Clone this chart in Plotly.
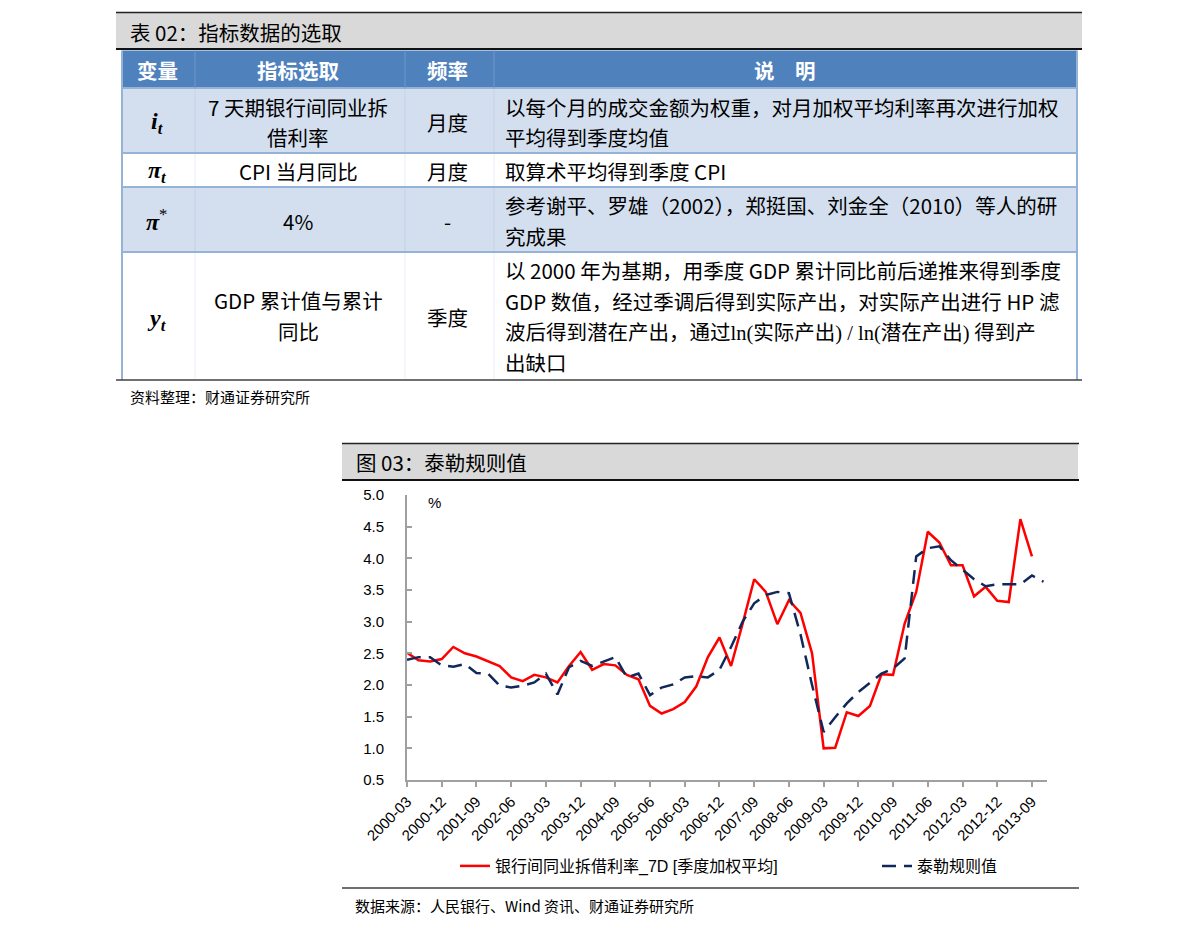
import plotly.graph_objects as go

W, H = 1191, 934
CJK = "Noto Sans CJK SC"
SANS = "Liberation Sans, Arial, Noto Sans CJK SC"
SERIF = "Liberation Serif, DejaVu Serif"

# ---------------- data ----------------
quarters = [f"{y}-{m:02d}" for y in range(2000, 2014) for m in (3, 6, 9, 12)]
tick_labels = quarters[::3]

rate_7d = [2.51, 2.39, 2.37, 2.41, 2.60, 2.50, 2.45, 2.37, 2.30, 2.12,
           2.06, 2.16, 2.12, 2.04, 2.30, 2.52, 2.24, 2.33, 2.31, 2.16,
           2.09, 1.67, 1.55, 1.62, 1.73, 1.98, 2.44, 2.75, 2.30, 2.97,
           3.67, 3.47, 2.96, 3.34, 3.14, 2.50, 1.00, 1.01, 1.57, 1.51,
           1.67, 2.17, 2.16, 2.97, 3.47, 4.42, 4.25, 3.89, 3.89, 3.40,
           3.55, 3.33, 3.31, 4.62, 4.03]

taylor = [2.40, 2.44, 2.44, 2.31, 2.29, 2.33, 2.19, 2.18, 1.99, 1.96,
          1.99, 2.04, 2.18, 1.85, 2.28, 2.38, 2.30, 2.37, 2.44, 2.12,
          2.18, 1.84, 1.96, 2.01, 2.12, 2.14, 2.12, 2.24, 2.60, 3.00,
          3.29, 3.42, 3.47, 3.45, 2.80, 2.00, 1.26, 1.49, 1.71, 1.89,
          2.03, 2.18, 2.26, 2.42, 4.03, 4.16, 4.19, 3.97, 3.82, 3.67,
          3.56, 3.59, 3.59, 3.59, 3.73, 3.63]

series_names = ["银行间同业拆借利率_7D [季度加权平均]", "泰勒规则值"]

table_title = "表 02：指标数据的选取"
table_headers = ["变量", "指标选取", "频率", "说　明"]
table_vars = ["<b><i>i</i></b><sub><b><i>t</i></b></sub>",
              "<b><i>π</i></b><sub><b><i>t</i></b></sub>",
              "<b><i>π</i></b><sup>*</sup>",
              "<b><i>y</i></b><sub><b><i>t</i></b></sub>"]
table_indicator = [["7 天期银行间同业拆", "借利率"], ["CPI 当月同比"], ["4%"],
                   ["GDP 累计值与累计", "同比"]]
table_freq = ["月度", "月度", "-", "季度"]
LN = "<span style=\"font-family:'Liberation Serif'\">"
table_desc = [
    ["以每个月的成交金额为权重，对月加权平均利率再次进行加权", "平均得到季度均值"],
    ["取算术平均得到季度 CPI"],
    ["参考谢平、罗雄（2002），郑挺国、刘金全（2010）等人的研", "究成果"],
    ["以 2000 年为基期，用季度 GDP 累计同比前后递推来得到季度",
     "GDP 数值，经过季调后得到实际产出，对实际产出进行 HP 滤",
     "波后得到潜在产出，通过" + LN + "ln(</span>实际产出" + LN + ") / ln(</span>潜在产出" + LN + ")</span> 得到产",
     "出缺口"],
]
table_source = "资料整理：财通证券研究所"
chart_title = "图 03：泰勒规则值"
chart_source = "数据来源：人民银行、Wind 资讯、财通证券研究所"


def X(px):
    return px / W


def Y(py):
    return 1 - py / H


def rect(x0, y0, x1, y1, fill):
    return dict(type="rect", xref="paper", yref="paper", x0=X(x0), x1=X(x1),
                y0=Y(y1), y1=Y(y0), fillcolor=fill, line=dict(width=0), layer="below")


def hline(x0, x1, y, color, width):
    return dict(type="line", xref="paper", yref="paper", x0=X(x0), x1=X(x1),
                y0=Y(y), y1=Y(y), line=dict(color=color, width=width))


def vline(x, y0, y1, color, width):
    return dict(type="line", xref="paper", yref="paper", x0=X(x), x1=X(x),
                y0=Y(y0), y1=Y(y1), line=dict(color=color, width=width))


def txt(x, y, s, size=20.5, color="#000000", family=CJK, xanchor="left"):
    return dict(x=X(x), y=Y(y), xref="paper", yref="paper", text=s, showarrow=False,
                xanchor=xanchor, yanchor="middle",
                font=dict(size=size, color=color, family=family))


# ---------------- figure ----------------
fig = go.Figure()
fig.add_trace(go.Scatter(x=quarters[:len(rate_7d)], y=rate_7d, mode="lines",
                         name=series_names[0], legend="legend",
                         line=dict(color="#FF0000", width=2.5)))
fig.add_trace(go.Scatter(x=quarters, y=taylor, mode="lines", name=series_names[1],
                         legend="legend2",
                         line=dict(color="#10285A", width=2.5, dash="14px,8px")))

shapes = []
annots = []

# ---- table block ----
row_bounds = [50.5, 88, 153, 187, 252, 379]
row_fills = ["#4F81BD", "#D3DFEE", "#FFFFFF", "#D3DFEE", "#FFFFFF"]
col_bounds = [122, 195, 405, 494, 1077]
shapes.append(rect(116, 12, 1082, 49, "#D9D9D9"))
shapes.append(hline(116, 1082, 12.5, "#222222", 1.5))
shapes.append(hline(116, 1082, 49, "#111111", 2))
for i, f in enumerate(row_fills):
    shapes.append(rect(col_bounds[0], row_bounds[i], col_bounds[-1], row_bounds[i + 1], f))
for yb in row_bounds[1:-1]:
    shapes.append(hline(col_bounds[0], col_bounds[-1], yb, "#95B3D7", 2))
for cb in col_bounds[1:-1]:
    shapes.append(vline(cb, row_bounds[0], row_bounds[1], "#6F98C9", 1))
    shapes.append(vline(cb, row_bounds[1], row_bounds[-1], "rgba(149,179,215,0.22)", 1))
shapes.append(vline(col_bounds[0], row_bounds[0], 380, "#95B3D7", 2))
shapes.append(vline(col_bounds[-1], row_bounds[0], 380, "#95B3D7", 2))
shapes.append(hline(116, 1082, 380, "#404040", 1.5))

annots.append(txt(128, 31.5, table_title, size=20.5))
header_x = [157, 298, 447, 785]
for hx, h in zip(header_x, table_headers):
    annots.append(txt(hx, 70, "<b>" + h + "</b>", color="#FFFFFF", xanchor="center"))

row_var_y = [123, 172, 220, 320]
row_freq_y = [122, 171, 221, 317]
row_ind_y = [[107, 137], [171], [221], [300, 331]]
row_desc_y = [[107, 137], [171], [205, 236], [270, 301, 331, 362]]
for r in range(4):
    annots.append(txt(157, row_var_y[r], table_vars[r], size=24, family=SERIF, xanchor="center"))
    annots.append(txt(447, row_freq_y[r], table_freq[r], xanchor="center"))
    for line, ly in zip(table_indicator[r], row_ind_y[r]):
        annots.append(txt(298, ly, line, xanchor="center"))
    for line, ly in zip(table_desc[r], row_desc_y[r]):
        annots.append(txt(503, ly, line))
annots.append(txt(128, 396, table_source, size=15))

# ---- chart block ----
shapes.append(rect(342, 443, 1078, 480, "#D9D9D9"))
shapes.append(hline(342, 1079, 443.5, "#222222", 1.5))
shapes.append(hline(342, 1079, 480, "#111111", 2))
shapes.append(hline(342, 1079, 888, "#404040", 1.5))
annots.append(txt(354, 462, chart_title, size=20.5))
annots.append(txt(353, 905, chart_source, size=15))
annots.append(txt(434, 503, "%", size=15, family=SANS, xanchor="center"))

AX = "#A0A0A0"
leg_common = dict(orientation="h", yanchor="middle", xanchor="left",
                  font=dict(size=16, family=SANS, color="#000000"),
                  bgcolor="rgba(0,0,0,0)", itemwidth=30)
fig.update_layout(
    width=W, height=H,
    margin=dict(l=0, r=0, t=0, b=0, autoexpand=False),
    paper_bgcolor="#FFFFFF", plot_bgcolor="#FFFFFF",
    shapes=shapes, annotations=annots,
    showlegend=True,
    legend=dict(x=X(455), y=Y(866), **leg_common),
    legend2=dict(x=X(877), y=Y(866), **leg_common),
    xaxis=dict(domain=[X(407), X(1047)], type="category", range=[0, 55.3],
               showline=True, linecolor=AX, linewidth=2, showgrid=False, zeroline=False,
               ticks="outside", ticklen=5, tickwidth=1.5, tickcolor=AX,
               tickmode="array", tickvals=tick_labels, ticktext=tick_labels,
               tickangle=-45, tickfont=dict(size=15, family=SANS, color="#000000")),
    yaxis=dict(domain=[Y(780), Y(495)], range=[0.5, 5.0], tick0=0.5, dtick=0.5,
               tickformat=".1f", showline=True, linecolor=AX, linewidth=2,
               showgrid=False, zeroline=False, ticks="inside", ticklen=5,
               tickwidth=1.5, tickcolor=AX, ticklabelstandoff=18,
               tickfont=dict(size=15, family=SANS, color="#000000")),
)

fig.write_html("out.html")
